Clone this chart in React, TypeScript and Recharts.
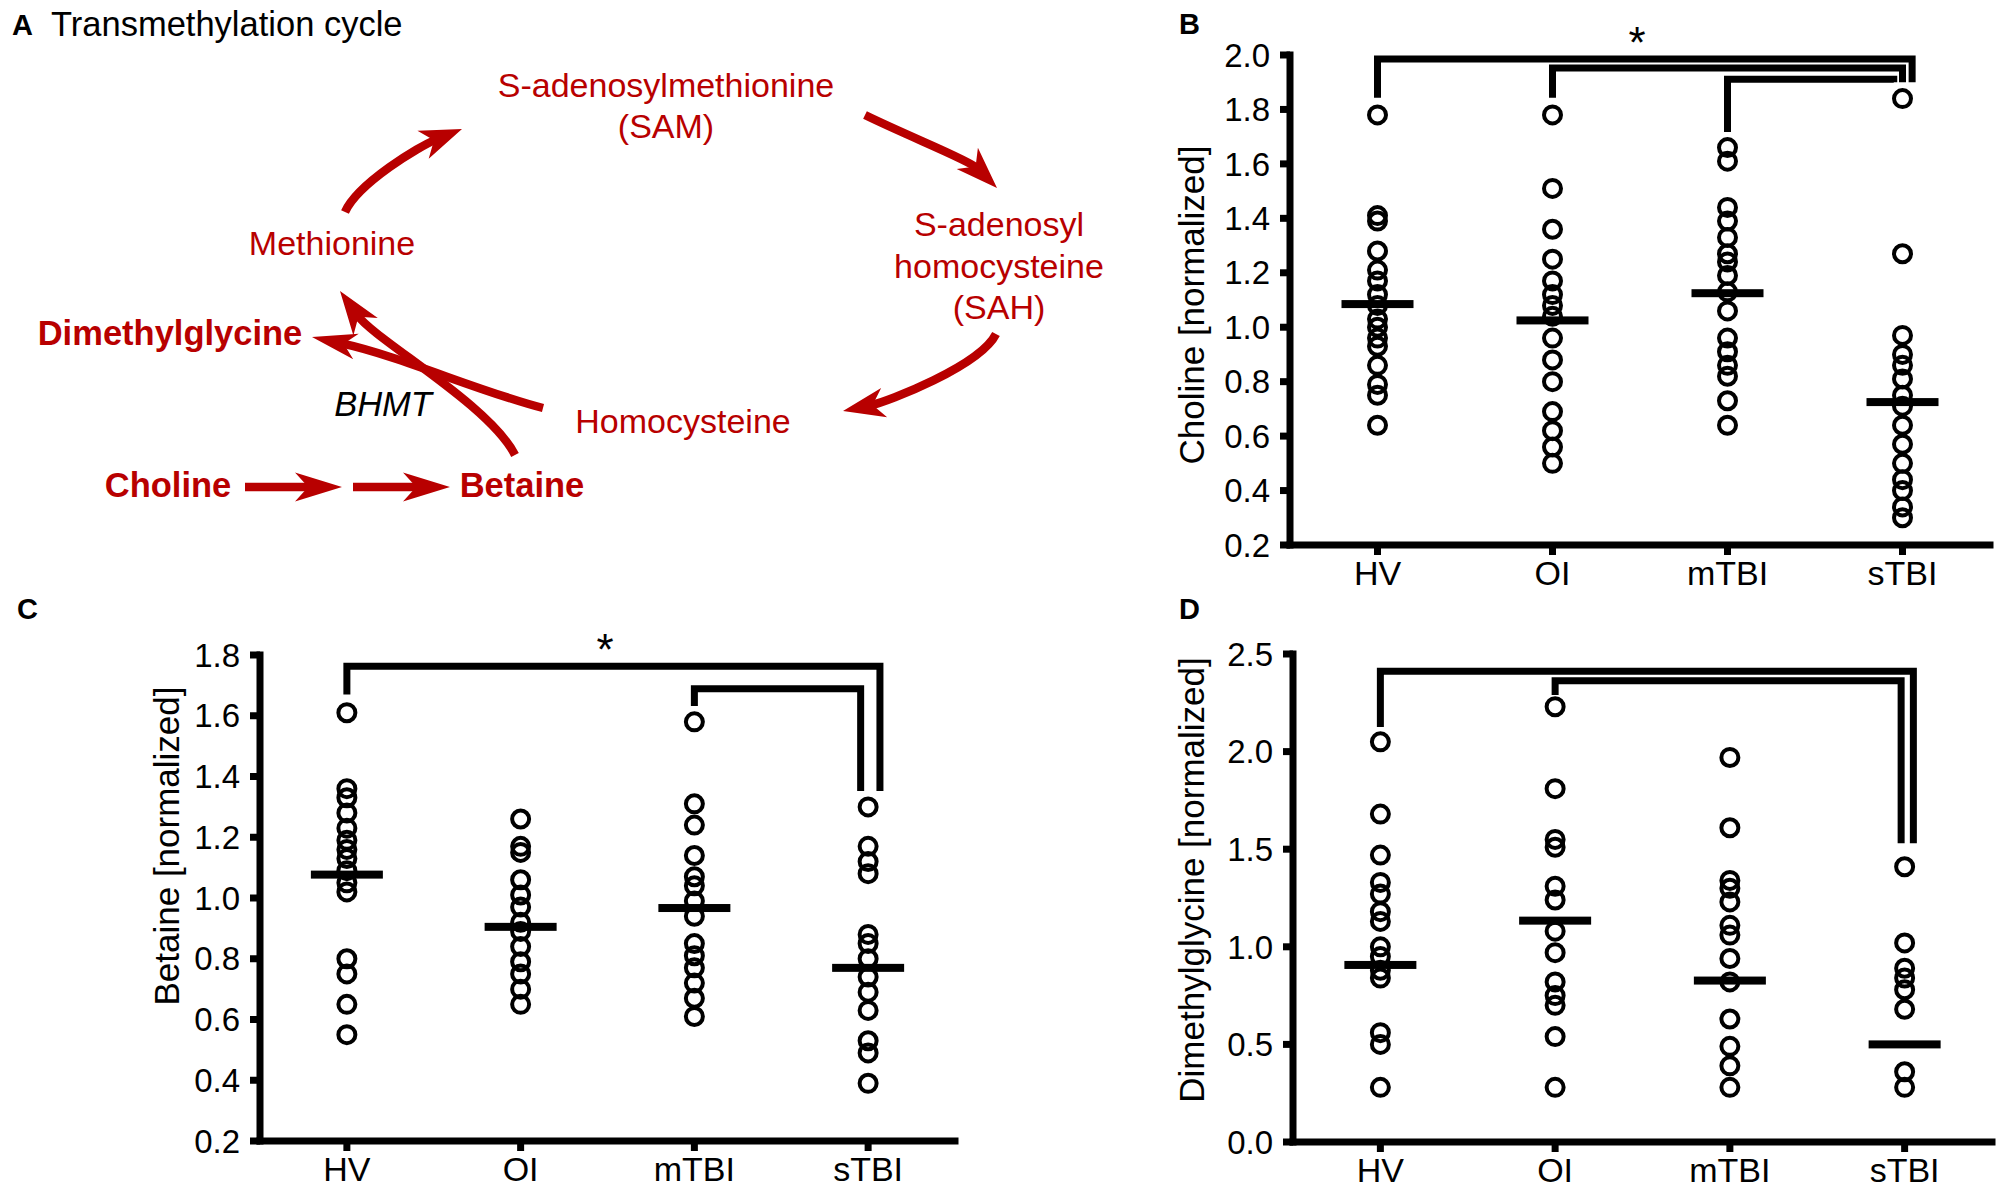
import React from 'react';
import { ScatterChart, Scatter, XAxis, YAxis, Label } from 'recharts';

const FONT = '"Liberation Sans", Arial, Helvetica, sans-serif';
const RED = '#b80000';

const groups = ['HV', 'OI', 'mTBI', 'sTBI'];

// B - choline
const cholineHV = [1.78, 1.41, 1.39, 1.28, 1.21, 1.17, 1.12, 1.08, 1.03, 1.0, 0.96, 0.93, 0.86, 0.79, 0.75, 0.64];
const cholineOI = [1.78, 1.51, 1.36, 1.25, 1.17, 1.12, 1.08, 1.04, 0.96, 0.88, 0.8, 0.69, 0.62, 0.56, 0.5];
const cholineMTBI = [1.66, 1.61, 1.44, 1.39, 1.33, 1.27, 1.24, 1.19, 1.13, 1.06, 0.96, 0.91, 0.86, 0.82, 0.73, 0.64];
const cholineSTBI = [1.84, 1.27, 0.97, 0.9, 0.86, 0.81, 0.75, 0.71, 0.64, 0.57, 0.5, 0.44, 0.4, 0.34, 0.3];
const cholineMeans = [1.085, 1.025, 1.125, 0.725];
const cholineTicks = [0.2, 0.4, 0.6, 0.8, 1.0, 1.2, 1.4, 1.6, 1.8, 2.0];
const cholineBrackets = [
  { from: 0, to: 3.055, low: 1.843, top: 1.985, end: 1.9 },
  { from: 1, to: 3.0, low: 1.843, top: 1.952, end: 1.9 },
  { from: 2, to: 2.95, low: 1.717, top: 1.911, end: 1.9 },
];

// C - betaine
const betaineHV = [1.61, 1.36, 1.33, 1.28, 1.23, 1.19, 1.16, 1.13, 1.09, 1.05, 1.02, 0.8, 0.75, 0.65, 0.55];
const betaineOI = [1.26, 1.17, 1.15, 1.06, 1.01, 0.97, 0.92, 0.89, 0.84, 0.79, 0.75, 0.7, 0.65];
const betaineMTBI = [1.58, 1.31, 1.24, 1.14, 1.07, 1.04, 0.99, 0.94, 0.85, 0.81, 0.77, 0.72, 0.67, 0.61];
const betaineSTBI = [1.3, 1.17, 1.12, 1.08, 0.88, 0.85, 0.8, 0.74, 0.69, 0.63, 0.53, 0.49, 0.39];
const betaineMeans = [1.077, 0.905, 0.967, 0.77];
const betaineTicks = [0.2, 0.4, 0.6, 0.8, 1.0, 1.2, 1.4, 1.6, 1.8];
const betaineBrackets = [
  { from: 0, to: 3.068, low: 1.67, top: 1.763, end: 1.352 },
  { from: 2, to: 2.957, low: 1.632, top: 1.689, end: 1.352 },
];

// D - dimethylglycine
const dmgHV = [2.05, 1.68, 1.47, 1.33, 1.27, 1.18, 1.13, 1.0, 0.95, 0.88, 0.84, 0.56, 0.5, 0.28];
const dmgOI = [2.23, 1.81, 1.55, 1.51, 1.31, 1.24, 1.08, 0.97, 0.82, 0.75, 0.7, 0.54, 0.28];
const dmgMTBI = [1.97, 1.61, 1.34, 1.3, 1.23, 1.11, 1.06, 0.94, 0.82, 0.63, 0.49, 0.39, 0.28];
const dmgSTBI = [1.41, 1.02, 0.89, 0.84, 0.78, 0.68, 0.36, 0.28];
const dmgMeans = [0.907, 1.134, 0.827, 0.5];
const dmgTicks = [0.0, 0.5, 1.0, 1.5, 2.0, 2.5];
const dmgBrackets = [
  { from: 0, to: 3.05, low: 2.126, top: 2.412, end: 1.53 },
  { from: 1, to: 2.98, low: 2.29, top: 2.363, end: 1.53 },
];

type Bracket = { from: number; to: number; low: number; top: number; end: number };

const toPoints = (sets: number[][]) => sets.flatMap((vals, i) => vals.map((y) => ({ x: i, y })));
const bracketPoints = (b: Bracket) => [
  { x: b.from, y: b.low },
  { x: b.from, y: b.top },
  { x: b.to, y: b.top },
  { x: b.to, y: b.end },
];

const OpenCircle = (p: any) => <circle cx={p.cx} cy={p.cy} r={8.5} fill="none" stroke="#000" strokeWidth={4} />;
const MeanBar = (p: any) => <rect x={p.cx - 36} y={p.cy - 4} width={72} height={8} fill="#000" />;
const NoDot = () => <g />;

const axisTitle = (text: string, dy: number) => (props: any) => {
  const vb = props.viewBox || {};
  const cx = vb.x + vb.width / 2;
  const cy = vb.y + vb.height / 2 + dy;
  return (
    <text x={cx} y={cy} transform={`rotate(-90 ${cx} ${cy})`} textAnchor="middle" dominantBaseline="central"
      fontSize={35} fill="#000" fontFamily={FONT}>
      {text}
    </text>
  );
};

interface PanelProps {
  left: number; top: number; width: number; height: number;
  margin: { top: number; right: number; bottom: number; left: number };
  yWidth: number; xHeight: number;
  domain: [number, number]; ticks: number[];
  title: string; titleDy: number;
  sets: number[][]; means: number[]; brackets: Bracket[];
}

const DotPanel: React.FC<PanelProps> = (p) => (
  <div style={{ position: 'absolute', left: p.left, top: p.top }}>
    <ScatterChart width={p.width} height={p.height} margin={p.margin}>
      <XAxis type="number" dataKey="x" domain={[-0.5, 3.5]} ticks={[0, 1, 2, 3]} interval={0}
        tickFormatter={(v: number) => groups[Math.round(v)]} height={p.xHeight}
        axisLine={{ stroke: '#000', strokeWidth: 7, strokeLinecap: 'square' }}
        tickLine={{ stroke: '#000', strokeWidth: 7 }} tickSize={10} tickMargin={6}
        tick={{ fill: '#000', fontSize: 34, fontFamily: FONT }} />
      <YAxis type="number" dataKey="y" domain={p.domain} ticks={p.ticks} interval={0}
        tickFormatter={(v: number) => v.toFixed(1)} width={p.yWidth}
        axisLine={{ stroke: '#000', strokeWidth: 7, strokeLinecap: 'square' }}
        tickLine={{ stroke: '#000', strokeWidth: 7 }} tickSize={10} tickMargin={10}
        tick={{ fill: '#000', fontSize: 33, fontFamily: FONT }}>
        <Label content={axisTitle(p.title, p.titleDy)} />
      </YAxis>
      <Scatter data={toPoints(p.sets)} shape={OpenCircle} isAnimationActive={false} />
      <Scatter data={p.means.map((y, i) => ({ x: i, y }))} shape={MeanBar} isAnimationActive={false} />
      {p.brackets.map((b, k) => (
        <Scatter key={k} data={bracketPoints(b)} shape={NoDot} lineType="joint"
          line={{ stroke: '#000', strokeWidth: 7, fill: 'none' }} isAnimationActive={false} />
      ))}
    </ScatterChart>
  </div>
);

// arrow: start, two control points, tip
const arrows = [
  { s: [345, 212], c1: [358, 183], c2: [420, 146], t: [462, 129], L: 42, W: 15 }, // Methionine -> SAM
  { s: [865, 115], c1: [910, 137], c2: [969, 160], t: [997, 188], L: 42, W: 15 }, // SAM -> SAH
  { s: [996, 334], c1: [980, 366], c2: [887, 402], t: [843, 411], L: 42, W: 15 }, // SAH -> Hcy
  { s: [543, 408], c1: [480, 392], c2: [400, 356], t: [312, 337], L: 45, W: 13 }, // Hcy -> DMG
  { s: [515, 455], c1: [490, 405], c2: [375, 340], t: [340, 291], L: 44, W: 15 }, // Betaine -> Met
  { s: [245, 487], c1: [280, 487], c2: [310, 487], t: [342, 487], L: 47, W: 14.5 }, // Choline ->
  { s: [353, 487], c1: [390, 487], c2: [420, 487], t: [450, 487], L: 47, W: 14.5 }, // -> Betaine
];

const Arrow = ({ a }: { a: any }) => {
  const [tx, ty] = a.t;
  const dx = tx - a.c2[0];
  const dy = ty - a.c2[1];
  const len = Math.hypot(dx, dy);
  const ux = dx / len, uy = dy / len;
  const px = -uy, py = ux;
  const bx = tx - ux * a.L, by = ty - uy * a.L;
  const nx = tx - ux * a.L * 0.72, ny = ty - uy * a.L * 0.72;
  const head = `M${tx},${ty} L${bx + px * a.W},${by + py * a.W} L${nx},${ny} L${bx - px * a.W},${by - py * a.W} Z`;
  return (
    <g>
      <path d={`M${a.s[0]},${a.s[1]} C${a.c1[0]},${a.c1[1]} ${a.c2[0]},${a.c2[1]} ${nx + ux * 2},${ny + uy * 2}`}
        fill="none" stroke={RED} strokeWidth={8.5} />
      <path d={head} fill={RED} />
    </g>
  );
};

const Overlay = () => (
  <svg width={2008} height={1196} style={{ position: 'absolute', left: 0, top: 0, pointerEvents: 'none' }}
    fontFamily={FONT}>
    <text x={12} y={35} fontSize={29} fontWeight="bold" fill="#000">A</text>
    <text x={51} y={36} fontSize={34.5} fill="#000">Transmethylation cycle</text>
    <text x={1179} y={34} fontSize={29} fontWeight="bold" fill="#000">B</text>
    <text x={17} y={619} fontSize={29} fontWeight="bold" fill="#000">C</text>
    <text x={1179} y={619} fontSize={29} fontWeight="bold" fill="#000">D</text>

    <g fill={RED} fontSize={34} textAnchor="middle">
      <text x={666} y={97}>S-adenosylmethionine</text>
      <text x={666} y={138}>(SAM)</text>
      <text x={999} y={236}>S-adenosyl</text>
      <text x={999} y={278}>homocysteine</text>
      <text x={999} y={319}>(SAH)</text>
      <text x={683} y={433}>Homocysteine</text>
      <text x={332} y={255}>Methionine</text>
    </g>
    <g fill={RED} fontSize={34.5} fontWeight="bold" textAnchor="middle">
      <text x={170} y={345}>Dimethylglycine</text>
      <text x={168} y={497}>Choline</text>
      <text x={522} y={497}>Betaine</text>
    </g>
    <text x={383} y={416} fontSize={34.5} fontStyle="italic" textAnchor="middle" fill="#000">BHMT</text>
    {arrows.map((a, i) => <Arrow key={i} a={a} />)}

    <text x={1637} y={58} fontSize={44} textAnchor="middle" fill="#000">*</text>
    <text x={605} y={665} fontSize={44} textAnchor="middle" fill="#000">*</text>
  </svg>
);

export default function App() {
  return (
    <div style={{ position: 'relative', width: 2008, height: 1196, background: '#fff', fontFamily: FONT, overflow: 'hidden' }}>
      <style>{'body{margin:0}'}</style>
      <DotPanel left={1080} top={0} width={928} height={610}
        margin={{ top: 55, right: 18, bottom: 5, left: 12 }} yWidth={198} xHeight={60}
        domain={[0.2, 2.0]} ticks={cholineTicks} title="Choline [normalized]" titleDy={5}
        sets={[cholineHV, cholineOI, cholineMTBI, cholineSTBI]} means={cholineMeans} brackets={cholineBrackets} />
      <DotPanel left={0} top={600} width={1000} height={596}
        margin={{ top: 55, right: 45, bottom: 5, left: 72 }} yWidth={188} xHeight={50}
        domain={[0.2, 1.8]} ticks={betaineTicks} title="Betaine [normalized]" titleDy={-52}
        sets={[betaineHV, betaineOI, betaineMTBI, betaineSTBI]} means={betaineMeans} brackets={betaineBrackets} />
      <DotPanel left={1080} top={600} width={928} height={596}
        margin={{ top: 54, right: 16, bottom: 4, left: 9 }} yWidth={204} xHeight={50}
        domain={[0, 2.5]} ticks={dmgTicks} title="Dimethylglycine [normalized]" titleDy={-18}
        sets={[dmgHV, dmgOI, dmgMTBI, dmgSTBI]} means={dmgMeans} brackets={dmgBrackets} />
      <Overlay />
    </div>
  );
}
